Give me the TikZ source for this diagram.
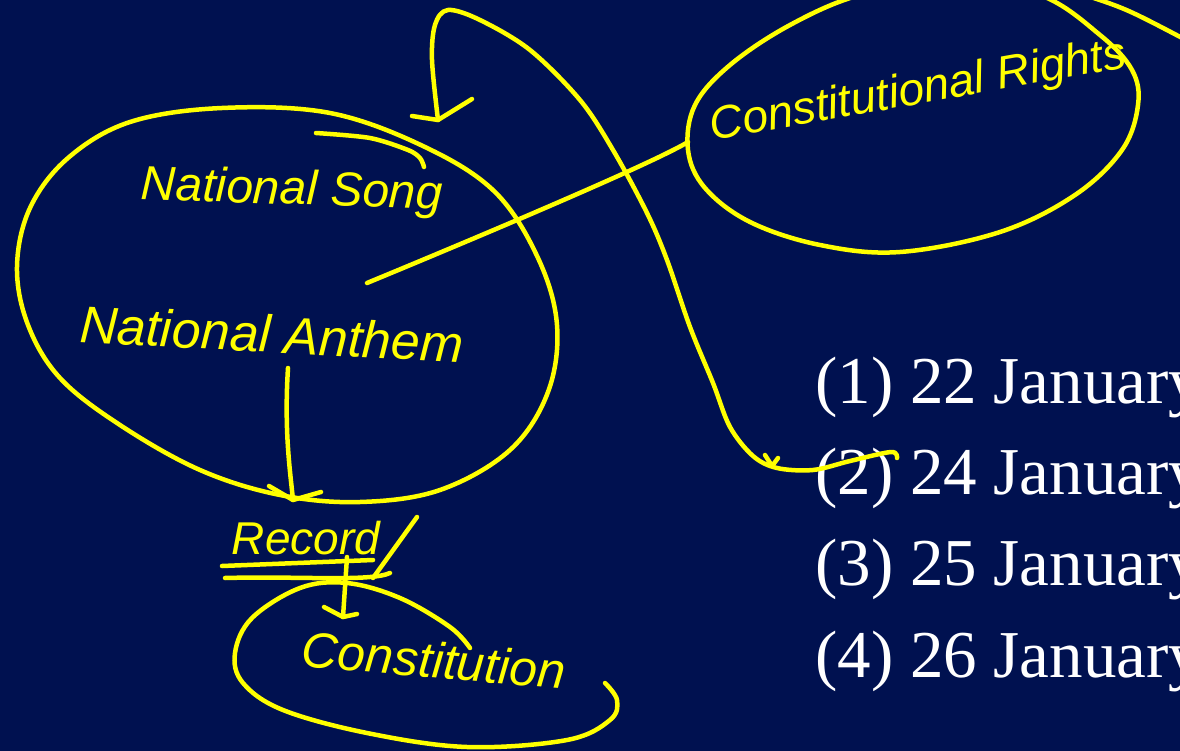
\documentclass[tikz,border=0pt]{standalone}
\usepackage{fontspec}
\setmainfont{Liberation Serif}
\newfontfamily\handfont{Liberation Sans}
\usetikzlibrary{calc}
\definecolor{slidenavy}{HTML}{001150}
\definecolor{penyellow}{HTML}{FFFF00}

\begin{document}
\begin{tikzpicture}[x=1pt, y=-1pt,
  ink/.style={draw=penyellow, line width=4.5pt, line cap=round, line join=round},
  hand/.style={text=penyellow, font=\handfont\itshape\fontsize{#1}{#1}\selectfont, inner sep=0pt},
  answer/.style={text=white, font=\fontsize{67}{80}\selectfont, anchor=base west, inner sep=0pt}]

\useasboundingbox (0,0) rectangle (1180,751);
\fill[slidenavy] (0,0) rectangle (1180,751);
\clip (0,0) rectangle (1180,751);

% answer options
\node[answer] (d1) at (815,403) {(1) 22 January};
\node[answer] (d2) at (815,494) {(2) 24 January};
\node[answer] (d3) at (815,585) {(3) 25 January};
\node[answer] (d4) at (815,677) {(4) 26 January};

% handwritten words
\node[hand=48, rotate=-2] (song) at (292,192) {National Song};
\node[hand=52, rotate=-3] (anthem) at (272,334) {National Anthem};
\node[hand=46] (record) at (306,538) {Record};
\node[hand=50, rotate=-5] (constitution) at (434,660) {Constitution};
\node[hand=46, rotate=10] (rights) at (918,92) {Constitutional Rights};

\coordinate (songtip) at (438,120);
\coordinate (datemark) at (891,452);
\coordinate (songlink) at (367,283);
\coordinate (rightslink) at (688,142);
\coordinate (anthemfoot) at (288,368);
\coordinate (recordtip) at (293,500);
\coordinate (recordfoot) at (347,557);
\coordinate (constip) at (343,617);

% circles
\draw[ink] plot[smooth cycle, tension=0.6] coordinates {(17,267) (30,208) (68,158) (130,122) (222,108) (330,113) (425,147) (495,192) (538,258) (557,325) (548,392) (510,450) (440,490) (360,502) (280,495) (200,470) (120,425) (60,378) (28,325)};
\draw[ink] plot[smooth cycle, tension=0.6] coordinates {(688,150) (695,105) (730,65) (790,25) (860,-5) (950,-20) (1040,-5) (1100,35) (1132,70) (1138,105) (1122,150) (1075,195) (1000,232) (900,252) (820,245) (750,222) (705,188)};
\draw[ink] (1075,-8) .. controls (1125,8) .. (1186,40);
\draw[ink] plot[smooth, tension=0.6] coordinates {(470,648) (450,627) (400,598) (347,583) (300,588) (252,618) (235,653) (243,683) (283,710) (367,733) (467,747) (567,740) (610,720) (617,700) (605,683)};
\draw[ink] plot[smooth, tension=0.5] coordinates {(316,133) (370,138) (408,150) (420,158) (424,167)};

% links
\draw[ink] (songlink) .. controls (500,228) and (655,162) .. (rightslink);
\draw[ink] plot[smooth, tension=0.55] coordinates {(897,458) (datemark) (850,461) (813,470) (777,468) (753,456) (730,427) (713,383) (690,327) (667,260) (647,213) (613,150) (580,100) (530,50) (480,20) (448,10) (435,25) (432,60) (songtip)};
\draw[ink] ($(songtip)+(-26,-4)$) -- (songtip) -- ++(34,-21);
\draw[ink] (765,455) -- (772,466) -- (778,458);

\draw[ink] (anthemfoot) .. controls (284,430) and (290,470) .. (recordtip);
\draw[ink] ($(recordtip)+(-24,-14)$) -- (recordtip) -- ++(28,-8);

% underlines of Record
\draw[ink] (222,566) -- (373,560);
\draw[ink] (225,578) .. controls (300,576) and (370,582) .. (390,573);
\draw[ink] (417,517) -- (373,578);

\draw[ink] (recordfoot) -- (constip);
\draw[ink] ($(constip)+(-19,-10)$) -- (constip) -- ++(14,-3);
\end{tikzpicture}
\end{document}
